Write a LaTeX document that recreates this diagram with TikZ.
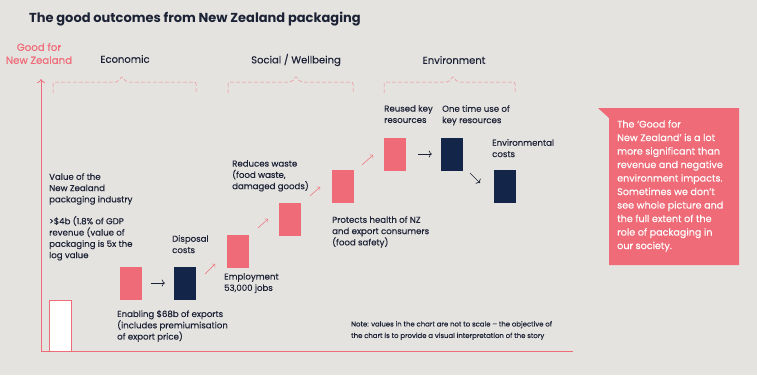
\documentclass[tikz,border=0pt]{standalone}
\usepackage{fontspec}
\setmainfont{Poppins}[FakeBold=0.25]
\newfontfamily\titlefont{Poppins}
\usetikzlibrary{arrows.meta}
\definecolor{nzpink}{HTML}{EF6B78}
\definecolor{nznavy}{HTML}{14254A}
\definecolor{nzink}{HTML}{1C2236}
\definecolor{nzbg}{HTML}{E5E3DF}
\begin{document}
\begin{tikzpicture}[x=1pt,y=-1pt]
\tikzset{pinkbar/.style={fill=nzpink,minimum width=22pt,minimum height=33pt,inner sep=0pt},
  navybar/.style={fill=nznavy,minimum width=22pt,minimum height=33pt,inner sep=0pt},
  lbl/.style={anchor=north west,inner sep=0pt,align=left,text=nzink,font=\fontsize{8.6}{11.3}\selectfont},
  head/.style={text=nzink,inner sep=0pt,font=\fontsize{10}{12}\selectfont},
  brace/.style={nzpink!80,dash pattern=on 4pt off 2pt,line width=0.5pt,rounded corners=2pt},
  flow/.style={-{To[length=3pt,width=7pt]},line width=0.7pt,nzink},
  rise/.style={-{To[length=2.5pt,width=5pt]},line width=0.5pt,nzpink}};
\fill[nzbg] (0,0) rectangle (757,375);
% title
\node[anchor=west,inner sep=0pt,text=nzink,font=\titlefont\fontsize{13}{15}\selectfont\bfseries] (title) at (29,19) {The good outcomes from New Zealand packaging};
% axis
\coordinate (origin) at (41,351);
\coordinate (ytop) at (41,79);
\coordinate (xend) at (573,351);
\draw[nzpink,line width=0.7pt,-{To[length=4pt,width=8pt]}] (origin) -- (ytop);
\draw[nzpink,line width=0.7pt] (origin) -- (xend);
\node[text=nzpink,align=center,inner sep=0pt,font=\fontsize{10.2}{13}\selectfont] (goodnz) at (39,53.5) {Good for\\New Zealand};
% group headings and braces
\node[head] (economic) at (125,59) {Economic};
\node[head] (social) at (296,60) {Social / Wellbeing};
\node[head] (environment) at (454,60) {Environment};
\draw[brace] (53,93) -- (53,82) -- (118,82) -- (122,76) -- (126,82) -- (196,82) -- (196,93);
\draw[brace] (228,93) -- (228,82) -- (292,82) -- (296,76) -- (300,82) -- (353,82) -- (353,93);
\draw[brace] (384,93) -- (384,82) -- (449,82) -- (453,76) -- (457,82) -- (515,82) -- (515,93);
% bars
\node[fill=white,draw=nzpink,line width=0.6pt,minimum width=22pt,minimum height=51pt,inner sep=0pt] (industry) at (60,325.5) {};
\node[pinkbar] (exports) at (130.5,283) {};
\node[navybar] (disposal) at (185,283) {};
\node[pinkbar] (employ) at (237.5,251) {};
\node[pinkbar] (waste) at (290,219) {};
\node[pinkbar] (health) at (343,186.5) {};
\node[pinkbar] (reused) at (395,154) {};
\node[navybar] (onetime) at (452,154) {};
\node[navybar] (envcost) at (505,186.5) {};
% arrows
\draw[flow] ([xshift=9pt]exports.east) -- ([xshift=-9pt]disposal.west);
\draw[flow] ([xshift=12pt]reused.east) -- ([xshift=-9pt]onetime.west);
\draw[flow] (470,173) -- (480,183);
\draw[rise] (205,274) -- (215,264);
\draw[rise] (258,228) -- (268,219);
\draw[rise] (310,196) -- (320,187);
\draw[rise] (362,165) -- (373,155);
% labels
\node[lbl] (valuetxt) at (49,173) {Value of the\\New Zealand\\packaging industry};
\node[lbl] (revtxt) at (49,216) {>\$4b (1.8\% of GDP\\revenue (value of\\packaging is 5x the\\log value};
\node[lbl] (disptxt) at (172,235) {Disposal\\costs};
\node[lbl] (exptxt) at (117,310) {Enabling \$68b of exports\\(includes premiumisation\\of export price)};
\node[lbl] (emptxt) at (224,273) {Employment\\53,000 jobs};
\node[lbl] (wastetxt) at (232,160) {Reduces waste\\(food waste,\\damaged goods)};
\node[lbl] (healthtxt) at (332,216) {Protects health of NZ\\and export consumers\\(food safety)};
\node[lbl] (reusedtxt) at (384,105) {Reused key\\resources};
\node[lbl] (onetimetxt) at (442,105) {One time use of\\key resources};
\node[lbl] (envtxt) at (492,139) {Environmental\\costs};
\node[lbl,font=\fontsize{6.9}{11.5}\selectfont] (note) at (351,321) {Note: values in the chart are not to scale – the objective of\\the chart is to provide a visual interpretation of the story};
% callout
\fill[nzpink] (598,108) -- (739,108) -- (739,265) -- (609,265) -- (609,118) -- cycle;
\node[anchor=north west,inner sep=0pt,align=left,text=white,font=\fontsize{9.6}{13.5}\selectfont] (callout) at (617,120) {The ‘Good for\\New Zealand’ is a lot\\more significant than\\revenue and negative\\environment impacts.\\Sometimes we don’t\\see whole picture and\\the full extent of the\\role of packaging in\\our society.};
\end{tikzpicture}
\end{document}
